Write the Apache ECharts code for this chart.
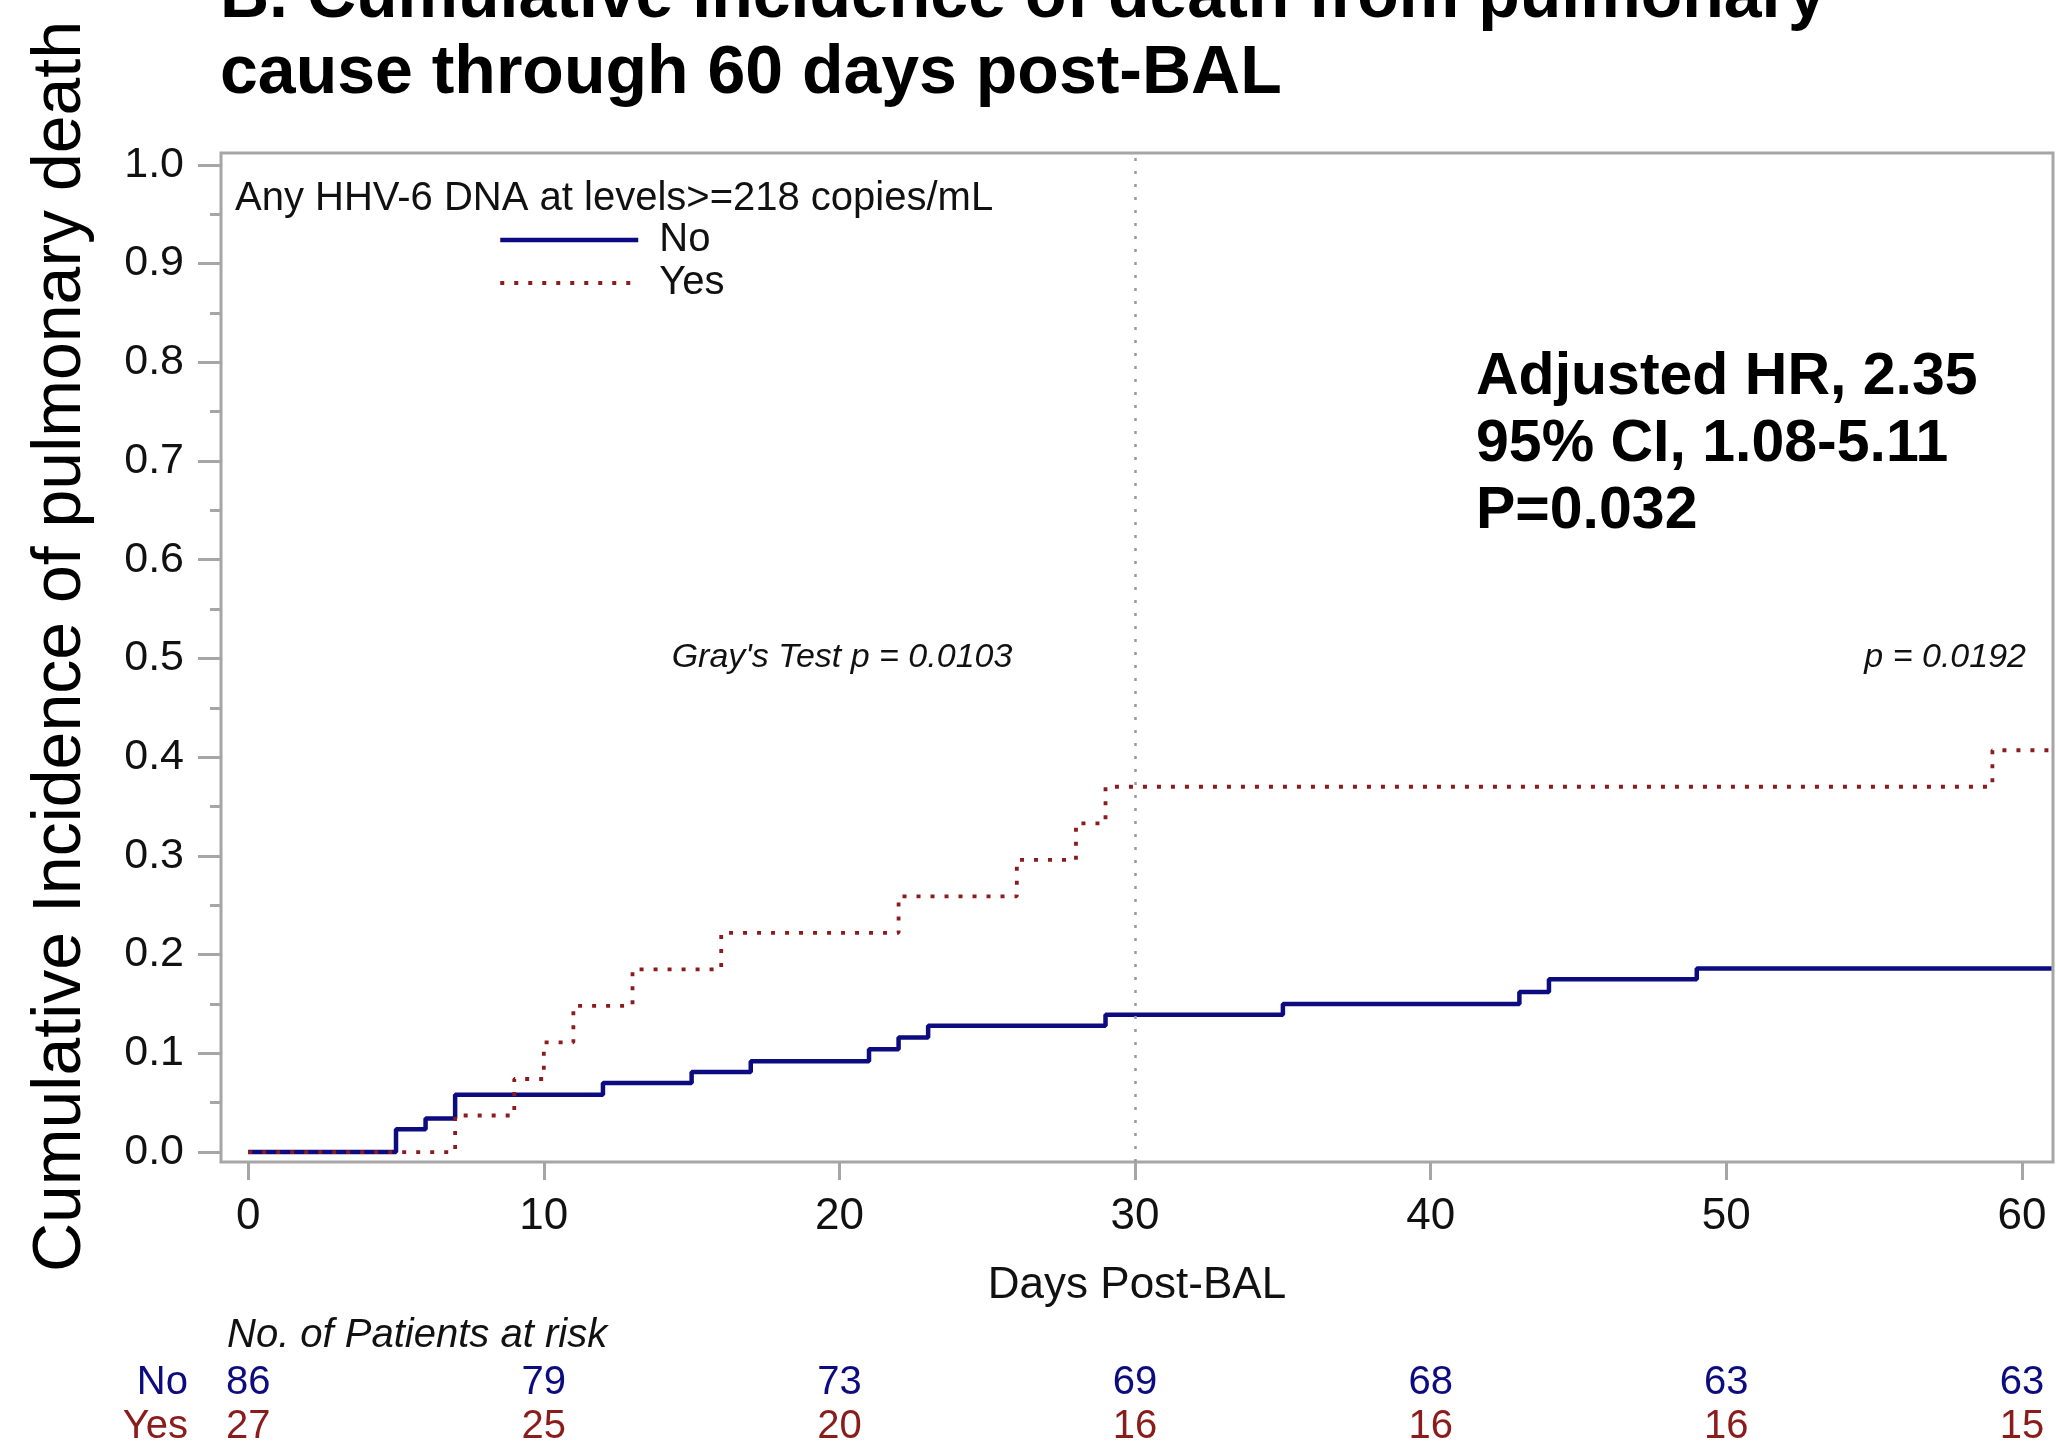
<!DOCTYPE html>
<html><head><meta charset="utf-8">
<script src="https://cdn.jsdelivr.net/npm/echarts@6/dist/echarts.min.js"></script>
<style>html,body{margin:0;padding:0;background:#fff}#c{width:2056px;height:1444px}</style>
</head><body><div id="c"></div>
<script>
// ---------- data ----------
const titleLines = ['B. Cumulative incidence of death from pulmonary', 'cause through 60 days post-BAL'];
const yAxisTitle = 'Cumulative Incidence of pulmonary death';
const xAxisTitle = 'Days Post-BAL';
const legendTitle = 'Any HHV-6 DNA at levels>=218 copies/mL';
const groupNames = ['No', 'Yes'];

const noTimes = [0, 5, 6, 7, 12, 15, 17, 21, 22, 23, 29, 35, 43, 44, 49, 61];
const noCif   = [0, 0.023, 0.034, 0.058, 0.070, 0.081, 0.092, 0.104, 0.116, 0.128, 0.139, 0.150, 0.162, 0.175, 0.186, 0.186];
const yesTimes = [0, 7, 9, 10, 11, 13, 16, 22, 26, 28, 29, 59, 61];
const yesCif   = [0, 0.037, 0.074, 0.111, 0.148, 0.185, 0.222, 0.259, 0.296, 0.333, 0.370, 0.407, 0.407];

const xTicks = [0, 10, 20, 30, 40, 50, 60];
const yTicks = [0, 0.1, 0.2, 0.3, 0.4, 0.5, 0.6, 0.7, 0.8, 0.9, 1.0];
const yMinorTicks = [0.05, 0.15, 0.25, 0.35, 0.45, 0.55, 0.65, 0.75, 0.85, 0.95];

const riskTimes = [0, 10, 20, 30, 40, 50, 60];
const riskNo  = [86, 79, 73, 69, 68, 63, 63];
const riskYes = [27, 25, 20, 16, 16, 16, 15];
const riskTitle = 'No. of Patients at risk';

const cutoffDay = 30;
const statsLines = ['Adjusted HR, 2.35', '95% CI, 1.08-5.11', 'P=0.032'];
const grayTestText = "Gray's Test p = 0.0103";
const lateTestText = 'p = 0.0192';

// ---------- chart ----------
const NAVY = '#0c0c80';
const DRED = '#8b1c1c';
const GREY = '#a6a6a6';
const FONT = 'Liberation Sans, Arial, sans-serif';
const X_MIN = -0.92, X_MAX = 61.05, Y_MIN = -0.0101, Y_MAX = 1.012;

const chart = echarts.init(document.getElementById('c'), null, {renderer: 'canvas', width: 2056, height: 1444});

function riskAxis(values, color, offset) {
  return {
    type: 'value', gridIndex: 0, position: 'bottom', offset: offset,
    min: X_MIN, max: X_MAX,
    axisLine: {show: false, onZero: false}, axisTick: {show: false}, splitLine: {show: false},
    axisLabel: {show: true, margin: 0, fontSize: 40, color: color, fontFamily: FONT,
      customValues: riskTimes,
      formatter: v => { const i = riskTimes.indexOf(v); return i >= 0 ? String(values[i]) : ''; }}
  };
}

const option = {
  animation: false,
  backgroundColor: '#fff',
  textStyle: {fontFamily: FONT},
  title: {
    text: titleLines.join('\n'), left: 220, top: -40, padding: 0,
    textStyle: {fontSize: 68, fontWeight: 'bold', color: '#000', lineHeight: 76, fontFamily: FONT}
  },
  grid: {left: 221, right: 3, top: 153, bottom: 282, containLabel: false, outerBoundsMode: 'none',
    show: true, borderColor: GREY, borderWidth: 3, backgroundColor: 'transparent'},
  legend: {
    orient: 'vertical', left: 498, top: 220, padding: 0, itemWidth: 138, itemHeight: 20, itemGap: 3,
    data: [
      {name: groupNames[0], lineStyle: {width: 4.5}},
      {name: groupNames[1], lineStyle: {width: 3.8}}
    ],
    selectedMode: false,
    itemStyle: {opacity: 0},
    textStyle: {fontSize: 40, color: '#111', lineHeight: 40, padding: [0, 0, 0, 16], fontFamily: FONT}
  },
  xAxis: [
    {
      type: 'value', min: X_MIN, max: X_MAX, position: 'bottom',
      axisLine: {show: false, onZero: false},
      axisTick: {show: true, inside: false, length: 18, customValues: xTicks, lineStyle: {color: GREY, width: 3}},
      axisLabel: {fontSize: 44, color: '#111', margin: 33, fontFamily: FONT, customValues: xTicks},
      splitLine: {show: false},
      name: xAxisTitle, nameLocation: 'middle', nameGap: 102,
      nameTextStyle: {fontSize: 44, color: '#111', fontFamily: FONT}
    },
    riskAxis(riskNo, NAVY, 201),
    riskAxis(riskYes, DRED, 245)
  ],
  yAxis: [
    {
      type: 'value', min: Y_MIN, max: Y_MAX, position: 'left',
      axisLine: {show: false, onZero: false},
      axisTick: {show: true, inside: false, length: 23, customValues: yTicks, lineStyle: {color: GREY, width: 3}},
      axisLabel: {fontSize: 43, color: '#111', margin: 37, fontFamily: FONT, customValues: yTicks,
        formatter: v => v.toFixed(1)},
      splitLine: {show: false},
      name: yAxisTitle, nameLocation: 'middle', nameRotate: 90, nameGap: 126,
      nameTextStyle: {fontSize: 68, color: '#000', fontFamily: FONT, padding: [0, 0, 0, 22]}
    },
    {
      type: 'value', min: Y_MIN, max: Y_MAX, position: 'left',
      axisLine: {show: false, onZero: false},
      axisTick: {show: true, inside: false, length: 11, customValues: yMinorTicks, lineStyle: {color: GREY, width: 3}},
      axisLabel: {show: false},
      splitLine: {show: false}
    }
  ],
  series: [
    {
      name: groupNames[0], type: 'line', step: 'end', symbol: 'none', z: 3,
      data: noTimes.map((t, i) => [t, noCif[i]]),
      lineStyle: {color: NAVY, width: 4.5}, itemStyle: {color: NAVY},
      markLine: {
        silent: true, symbol: 'none', label: {show: false},
        lineStyle: {color: '#9a9a9a', type: [3, 10], width: 2.5},
        data: [{xAxis: cutoffDay}]
      }
    },
    {
      name: groupNames[1], type: 'line', step: 'end', symbol: 'none', z: 4,
      data: yesTimes.map((t, i) => [t, yesCif[i]]),
      lineStyle: {color: DRED, width: 3.8, type: [4, 10]}, itemStyle: {color: DRED}
    }
  ],
  graphic: [
    {type: 'text', x: 235, y: 199, silent: true,
      style: {text: legendTitle, fontSize: 40, fontFamily: FONT, fill: '#111', align: 'left', verticalAlign: 'middle'}},
    {type: 'text', x: 1476, y: 344, silent: true,
      style: {text: statsLines.join('\n'), fontSize: 59, fontWeight: 'bold', fontFamily: FONT, lineHeight: 67, fill: '#000', align: 'left', verticalAlign: 'top'}},
    {type: 'text', x: 842, y: 658, silent: true,
      style: {text: grayTestText, fontSize: 34, fontStyle: 'italic', fontFamily: FONT, fill: '#111', align: 'center', verticalAlign: 'middle'}},
    {type: 'text', x: 2026, y: 658, silent: true,
      style: {text: lateTestText, fontSize: 34, fontStyle: 'italic', fontFamily: FONT, fill: '#111', align: 'right', verticalAlign: 'middle'}},
    {type: 'text', x: 227, y: 1336, silent: true,
      style: {text: riskTitle, fontSize: 40, fontStyle: 'italic', fontFamily: FONT, fill: '#111', align: 'left', verticalAlign: 'middle'}},
    {type: 'text', x: 188, y: 1383, silent: true,
      style: {text: groupNames[0], fontSize: 40, fontFamily: FONT, fill: NAVY, align: 'right', verticalAlign: 'middle'}},
    {type: 'text', x: 188, y: 1427, silent: true,
      style: {text: groupNames[1], fontSize: 40, fontFamily: FONT, fill: DRED, align: 'right', verticalAlign: 'middle'}}
  ]
};
chart.setOption(option);
</script>
</body></html>
